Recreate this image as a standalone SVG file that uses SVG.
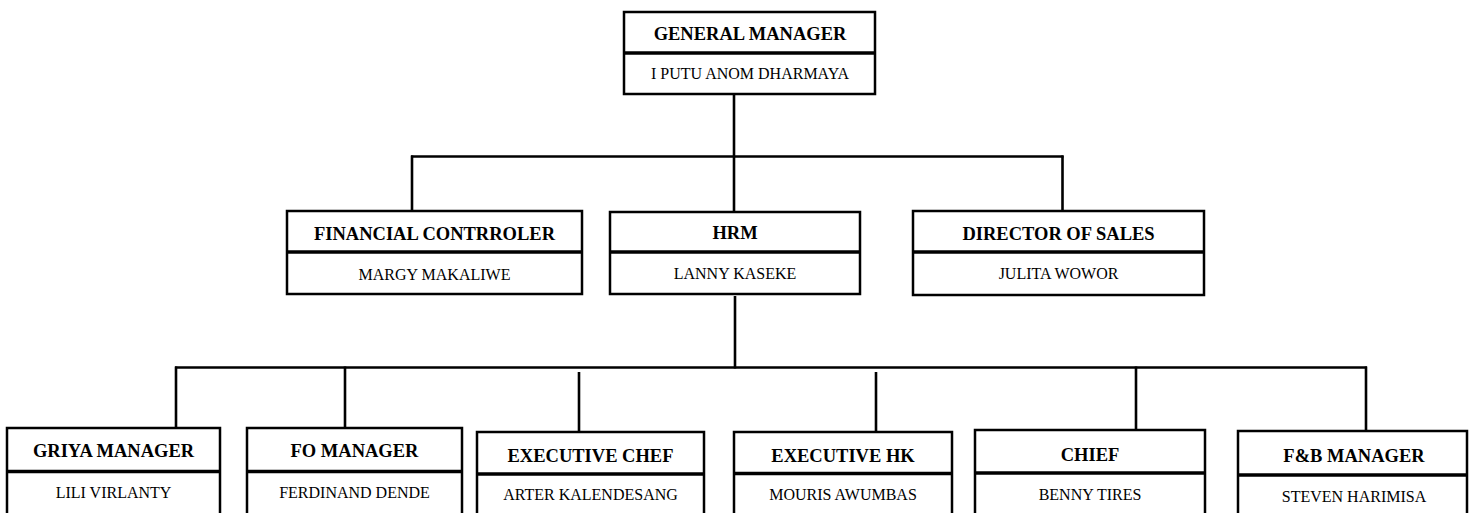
<svg xmlns="http://www.w3.org/2000/svg" width="1469" height="513" viewBox="0 0 1469 513">
<style>
.box{fill:#fff;stroke:#000;stroke-width:2.5}
.dv{stroke:#000;stroke-width:3.3}
.t{font-family:"Liberation Serif","Times New Roman",serif;font-weight:bold;font-size:18.5px;fill:#000;text-anchor:middle}
.n{font-family:"Liberation Serif","Times New Roman",serif;font-size:16px;fill:#000;text-anchor:middle}
.c{stroke:#000;stroke-width:2.6;fill:none}
</style>
<rect width="1469" height="513" fill="#fff"/>
<g id="connectors">
<line class="c" x1="734" y1="95" x2="734" y2="212"/>
<line class="c" x1="411" y1="156.5" x2="1063.5" y2="156.5"/>
<line class="c" x1="412" y1="155.5" x2="412" y2="211"/>
<line class="c" x1="1062.5" y1="155.5" x2="1062.5" y2="211"/>
<line class="c" x1="735" y1="296" x2="735" y2="368.5"/>
<line class="c" x1="175" y1="367.5" x2="1367" y2="367.5"/>
<line class="c" x1="176" y1="366.5" x2="176" y2="428"/>
<line class="c" x1="345" y1="366.5" x2="345" y2="428"/>
<line class="c" x1="579" y1="372" x2="579" y2="432"/>
<line class="c" x1="876" y1="372" x2="876" y2="432"/>
<line class="c" x1="1136" y1="366.5" x2="1136" y2="430"/>
<line class="c" x1="1366" y1="366.5" x2="1366" y2="431"/>
</g>
<g id="gm">
<rect class="box" x="624" y="12" width="251" height="82"/>
<line class="dv" x1="624" y1="53" x2="875" y2="53"/>
<text class="t" x="750" y="40">GENERAL MANAGER</text>
<text class="n" x="750" y="79">I PUTU ANOM DHARMAYA</text>
</g>
<g id="fc">
<rect class="box" x="287" y="211" width="295" height="83"/>
<line class="dv" x1="287" y1="252" x2="582" y2="252"/>
<text class="t" x="434.5" y="240">FINANCIAL CONTRROLER</text>
<text class="n" x="434.5" y="280">MARGY MAKALIWE</text>
</g>
<g id="hrm">
<rect class="box" x="610" y="212" width="250" height="82"/>
<line class="dv" x1="610" y1="252" x2="860" y2="252"/>
<text class="t" x="735" y="239">HRM</text>
<text class="n" x="735" y="279">LANNY KASEKE</text>
</g>
<g id="dos">
<rect class="box" x="913" y="211" width="291" height="84"/>
<line class="dv" x1="913" y1="252" x2="1204" y2="252"/>
<text class="t" x="1058.5" y="240">DIRECTOR OF SALES</text>
<text class="n" x="1058.5" y="279">JULITA WOWOR</text>
</g>
<g id="griya">
<rect class="box" x="7" y="428" width="213" height="100"/>
<line class="dv" x1="7" y1="471.5" x2="220" y2="471.5"/>
<text class="t" x="113.5" y="457">GRIYA MANAGER</text>
<text class="n" x="113.5" y="498">LILI VIRLANTY</text>
</g>
<g id="fo">
<rect class="box" x="247" y="428" width="215" height="100"/>
<line class="dv" x1="247" y1="471.5" x2="462" y2="471.5"/>
<text class="t" x="354.5" y="457">FO MANAGER</text>
<text class="n" x="354.5" y="498">FERDINAND DENDE</text>
</g>
<g id="chef">
<rect class="box" x="477" y="432" width="227" height="100"/>
<line class="dv" x1="477" y1="474" x2="704" y2="474"/>
<text class="t" x="590.5" y="461.5">EXECUTIVE CHEF</text>
<text class="n" x="590.5" y="500">ARTER KALENDESANG</text>
</g>
<g id="hk">
<rect class="box" x="734" y="432" width="218" height="100"/>
<line class="dv" x1="734" y1="473.5" x2="952" y2="473.5"/>
<text class="t" x="843" y="461.5">EXECUTIVE HK</text>
<text class="n" x="843" y="500">MOURIS AWUMBAS</text>
</g>
<g id="chief">
<rect class="box" x="975" y="430" width="230" height="100"/>
<line class="dv" x1="975" y1="473" x2="1205" y2="473"/>
<text class="t" x="1090" y="461">CHIEF</text>
<text class="n" x="1090" y="500">BENNY TIRES</text>
</g>
<g id="fb">
<rect class="box" x="1238" y="431" width="229" height="100"/>
<line class="dv" x1="1238" y1="475" x2="1467" y2="475"/>
<text class="t" x="1354" y="461.5">F&amp;B MANAGER</text>
<text class="n" x="1354" y="502">STEVEN HARIMISA</text>
</g>
</svg>
